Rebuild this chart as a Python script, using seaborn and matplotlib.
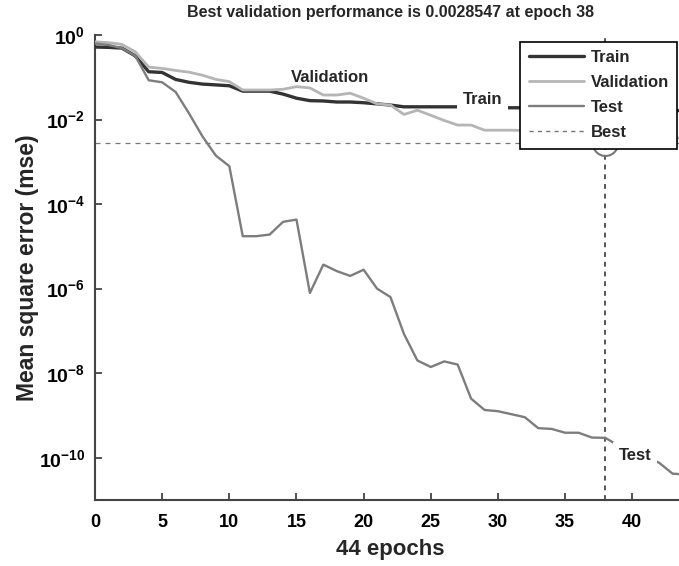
import numpy as np
import pandas as pd
import matplotlib
matplotlib.use("Agg")
import matplotlib.pyplot as plt
from matplotlib.lines import Line2D
from matplotlib.ticker import FixedLocator, FuncFormatter, NullLocator
import seaborn as sns

# values (mse per epoch, 0..44)
epochs = list(range(45))
train_mse = [5.2e-1, 5.1e-1, 4.9e-1, 3.2e-1, 1.35e-1, 1.3e-1, 8.9e-2, 7.6e-2, 6.9e-2, 6.6e-2,
             6.3e-2, 4.7e-2, 4.7e-2, 4.7e-2, 4.0e-2, 3.2e-2, 2.8e-2, 2.75e-2, 2.6e-2, 2.6e-2,
             2.5e-2, 2.35e-2, 2.2e-2, 2.0e-2, 2.0e-2, 2.0e-2, 2.0e-2, 2.0e-2, 1.95e-2, 1.9e-2,
             1.9e-2, 1.9e-2, 1.9e-2, 1.85e-2, 1.85e-2, 1.8e-2, 1.8e-2, 1.75e-2, 1.75e-2, 1.7e-2,
             1.7e-2, 1.7e-2, 1.65e-2, 1.65e-2, 1.6e-2]
val_mse = [6.9e-1, 6.6e-1, 6.0e-1, 4.0e-1, 1.74e-1, 1.62e-1, 1.45e-1, 1.32e-1, 1.12e-1, 8.9e-2,
           7.9e-2, 5.0e-2, 5.0e-2, 5.0e-2, 5.2e-2, 6.0e-2, 5.6e-2, 3.8e-2, 3.8e-2, 4.2e-2,
           3.2e-2, 2.35e-2, 2.2e-2, 1.32e-2, 1.66e-2, 1.26e-2, 9.5e-3, 7.4e-3, 7.4e-3, 5.6e-3,
           5.6e-3, 5.6e-3, 5.5e-3, 5.0e-3, 4.5e-3, 4.0e-3, 3.6e-3, 3.2e-3, 2.8547e-3, 3.0e-3,
           3.1e-3, 3.3e-3, 3.4e-3, 3.6e-3, 3.7e-3]
test_mse = [6.3e-1, 5.8e-1, 4.9e-1, 3.2e-1, 8.5e-2, 7.6e-2, 4.5e-2, 1.4e-2, 4.0e-3, 1.4e-3,
            7.9e-4, 1.74e-5, 1.74e-5, 1.9e-5, 3.8e-5, 4.3e-5, 7.9e-7, 3.7e-6, 2.6e-6, 2.0e-6,
            2.8e-6, 1.0e-6, 6.3e-7, 8.5e-8, 2.0e-8, 1.4e-8, 1.9e-8, 1.6e-8, 2.5e-9, 1.35e-9,
            1.26e-9, 1.07e-9, 9.1e-10, 5.0e-10, 4.8e-10, 3.9e-10, 3.9e-10, 3.0e-10, 2.95e-10, 1.9e-10,
            1.4e-10, 1.05e-10, 7.6e-11, 4.2e-11, 4.0e-11]
best_epoch = 38
best_perf = 0.0028547

series_names = ["Train", "Validation", "Test"]
series_colors = ["#333333", "#b5b5b5", "#7d7d7d"]
series_widths = [2.4, 2.0, 1.7]
ytick_exps = [0, -2, -4, -6, -8, -10]
xtick_vals = [0, 5, 10, 15, 20, 25, 30, 35, 40]

sns.set_style("ticks")
plt.rcParams["font.family"] = ["Liberation Sans", "DejaVu Sans"]
plt.rcParams["font.weight"] = "bold"
plt.rcParams["mathtext.fontset"] = "custom"
plt.rcParams["mathtext.bf"] = "Liberation Sans:bold"
plt.rcParams["mathtext.rm"] = "Liberation Sans:bold"
plt.rcParams["mathtext.default"] = "bf"

fig = plt.figure(figsize=(6.79, 5.66), dpi=100)
ax = fig.add_axes([95 / 679, 66 / 566, 591 / 679, 465 / 566])

df = pd.DataFrame({
    "epoch": epochs * 3,
    "mse": train_mse + val_mse + test_mse,
    "split": ["Train"] * 45 + ["Validation"] * 45 + ["Test"] * 45,
})
for name, col, lw in zip(series_names, series_colors, series_widths):
    sns.lineplot(data=df[df["split"] == name], x="epoch", y="mse", color=col,
                 linewidth=lw, ax=ax, legend=False, zorder=3)

ax.axhline(best_perf, color="#777777", linestyle=(0, (4, 4)), linewidth=0.9, zorder=2)
ax.axvline(best_epoch, color="#555555", linestyle=(0, (2.5, 2.5)), linewidth=1.4, zorder=2)
ax.plot([best_epoch], [best_perf], "o", mfc="none", mec="#777777", mew=1.5, ms=18, zorder=4)

ax.set_yscale("log")
ax.set_xlim(0, 44)
ax.set_ylim(1e-11, 1)
ax.yaxis.set_major_locator(FixedLocator([10.0 ** e for e in ytick_exps]))
ax.yaxis.set_minor_locator(NullLocator())
ax.yaxis.set_major_formatter(FuncFormatter(lambda v, p: r"$\mathbf{10^{%d}}$" % round(np.log10(v))))
ax.set_xticks(xtick_vals)
ax.tick_params(direction="in", length=5, width=1.2, colors="#333333", labelcolor="black")
ax.tick_params(axis="x", labelsize=13, pad=10)
ax.tick_params(axis="y", labelsize=14, pad=7)
for s in ["top", "right"]:
    ax.spines[s].set_visible(False)
for s in ["left", "bottom"]:
    ax.spines[s].set_color("#444444")
    ax.spines[s].set_linewidth(1.5)

ax.set_xlabel("44 epochs", fontsize=16, fontweight="bold", labelpad=6)
ax.set_ylabel("Mean square error (mse)", fontsize=16.5, fontweight="bold", labelpad=0)
ax.set_title("Best validation performance is 0.0028547 at epoch 38",
             fontsize=11.5, fontweight="bold", pad=13)

box = dict(boxstyle="square,pad=0.35", fc="white", ec="none")
ax.text(14.55, 0.1, "Validation", fontsize=12, fontweight="bold", ha="left", va="center", zorder=5)
ax.text(27.4, 0.03, "Train", fontsize=12, fontweight="bold", ha="left", va="center", bbox=box, zorder=5)
ax.text(39.0, 1.15e-10, "Test", fontsize=12, fontweight="bold", ha="left", va="center", bbox=box, zorder=5)

handles = [Line2D([], [], color=c, linewidth=w) for c, w in zip(series_colors, series_widths)]
handles.append(Line2D([], [], color="#777777", linestyle=(0, (3, 3)), linewidth=1))
leg = ax.legend(handles, series_names + ["Best"], loc="upper right",
                bbox_to_anchor=(677 / 679, 1 - 42 / 566), bbox_transform=fig.transFigure,
                borderaxespad=0, fancybox=False, framealpha=1, edgecolor="black",
                fontsize=12, handlelength=3.3, handletextpad=0.4, labelspacing=0.6,
                borderpad=0.5)
leg.get_frame().set_linewidth(1.2)
leg.set_zorder(10)

fig.savefig("out.png", dpi=100)
